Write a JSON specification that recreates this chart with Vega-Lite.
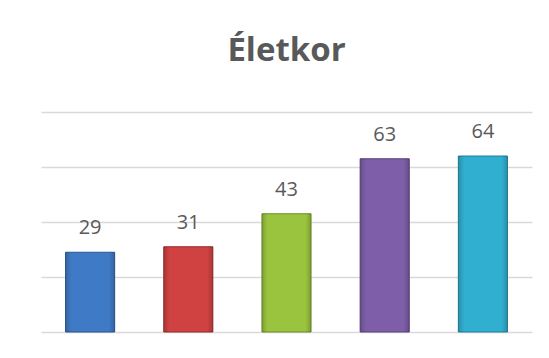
{
  "$schema": "https://vega.github.io/schema/vega-lite/v6.json",
  "autosize": "none",
  "width": 491,
  "height": 220,
  "padding": {"left": 41, "top": 112, "right": 17, "bottom": 26},
  "background": "white",
  "title": {
    "text": "Életkor",
    "font": "Open Sans",
    "fontSize": 33,
    "fontWeight": "bold",
    "color": "#595959",
    "anchor": "middle",
    "baseline": "alphabetic",
    "offset": 18
  },
  "config": {
    "view": {"stroke": null},
    "font": "Open Sans"
  },
  "data": {
    "values": [
      {"cat": "1", "value": 29},
      {"cat": "2", "value": 31},
      {"cat": "3", "value": 43},
      {"cat": "4", "value": 63},
      {"cat": "5", "value": 64}
    ]
  },
  "encoding": {
    "x": {
      "field": "cat",
      "type": "nominal",
      "axis": null,
      "scale": {"paddingInner": 0.5, "paddingOuter": 0.25}
    },
    "y": {
      "field": "value",
      "type": "quantitative",
      "scale": {"domain": [0, 80], "nice": false},
      "axis": {
        "values": [0, 20, 40, 60, 80],
        "labels": false,
        "ticks": false,
        "domain": false,
        "title": null,
        "grid": true,
        "gridColor": "#d9d9d9",
        "gridWidth": 1.5
      }
    }
  },
  "layer": [
    {
      "mark": {"type": "bar", "strokeWidth": 1},
      "encoding": {
        "color": {
          "field": "cat",
          "type": "nominal",
          "legend": null,
          "scale": {
            "domain": ["1", "2", "3", "4", "5"],
            "range": ["#3f7ac6", "#d04242", "#9bc43e", "#7e5ea8", "#31afd0"]
          }
        },
        "stroke": {
          "field": "cat",
          "type": "nominal",
          "legend": null,
          "scale": {
            "domain": ["1", "2", "3", "4", "5"],
            "range": ["#2a5590", "#962c2c", "#6e8c2a", "#5a4278", "#237f98"]
          }
        }
      }
    },
    {
      "mark": {
        "type": "bar",
        "color": {
          "gradient": "linear",
          "x1": 0, "y1": 0, "x2": 1, "y2": 0,
          "stops": [
            {"offset": 0, "color": "rgba(0,0,0,0.18)"},
            {"offset": 0.12, "color": "rgba(0,0,0,0)"},
            {"offset": 0.88, "color": "rgba(0,0,0,0)"},
            {"offset": 1, "color": "rgba(0,0,0,0.18)"}
          ]
        }
      }
    },
    {
      "mark": {
        "type": "text",
        "dy": -24,
        "baseline": "middle",
        "fontSize": 20,
        "color": "#595959",
        "font": "Open Sans"
      },
      "encoding": {
        "text": {"field": "value", "type": "quantitative"}
      }
    }
  ]
}
